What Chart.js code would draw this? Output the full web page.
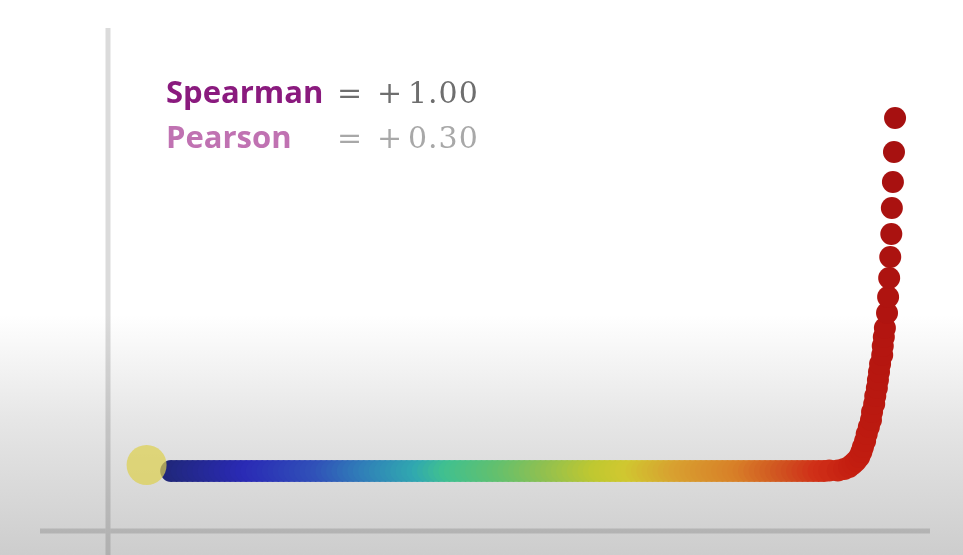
<!DOCTYPE html>
<html>
<head>
<meta charset="utf-8">
<script src="https://cdn.jsdelivr.net/npm/chart.js@4"></script>
<style>
  html, body { margin: 0; padding: 0; }
  body {
    width: 963px; height: 555px; overflow: hidden;
    background: linear-gradient(to bottom, #ffffff 0px, #ffffff 315px, #e6e6e6 420px, #cdcdcd 555px);
  }
  #wrap { position: relative; width: 963px; height: 555px; }
</style>
</head>
<body>
<div id="wrap"><canvas id="myChart"></canvas></div>
<script>
// data: x and y of each point (rank-monotonic, exponential-like)
const xValues = [
  6, 6.5, 7, 7.5, 8, 8.5, 9, 9.5, 10, 10.5, 11, 11.5, 12, 12.5, 13, 13.5,
  14, 14.5, 15, 15.5, 16, 16.5, 17, 17.5, 18, 18.5, 19, 19.5, 20, 20.5, 21, 21.5,
  22, 22.5, 23, 23.5, 24, 24.5, 25, 25.5, 26, 26.5, 27, 27.5, 28, 28.5, 29, 29.5,
  30, 30.5, 31, 31.5, 32, 32.5, 33, 33.5, 34, 34.5, 35, 35.5, 36, 36.5, 37, 37.5,
  38, 38.5, 39, 39.5, 40, 40.5, 41, 41.5, 42, 42.5, 43, 43.5, 44, 44.5, 45, 45.5,
  46, 46.5, 47, 47.5, 48, 48.5, 49, 49.5, 50, 50.5, 51, 51.5, 52, 52.5, 53, 53.5,
  54, 54.5, 55, 55.5, 56, 56.5, 57, 57.5, 58, 58.5, 59, 59.5, 60, 60.5, 61, 61.5,
  62, 62.5, 63, 63.5, 64, 64.5, 65, 65.5, 66, 66.5, 67, 67.5,
  68.3, 68.9, 69.35, 69.7, 70.0, 70.3, 70.5, 70.65, 70.85, 71.0, 71.2, 71.4,
  71.5, 71.7, 71.8, 71.95, 72.05, 72.15, 72.25, 72.45, 72.5, 72.6, 72.7,
  72.9, 73.0, 73.1, 73.2, 73.3, 73.35, 73.45, 73.55, 73.65
];
const yValues = [
  11.8, 11.8, 11.8, 11.8, 11.8, 11.8, 11.8, 11.8, 11.8, 11.8, 11.8, 11.8, 11.8, 11.8, 11.8, 11.8,
  11.8, 11.8, 11.8, 11.8, 11.8, 11.8, 11.8, 11.8, 11.8, 11.8, 11.8, 11.8, 11.8, 11.8, 11.8, 11.8,
  11.8, 11.8, 11.8, 11.8, 11.8, 11.8, 11.8, 11.8, 11.8, 11.8, 11.8, 11.8, 11.8, 11.8, 11.8, 11.8,
  11.8, 11.8, 11.8, 11.8, 11.8, 11.8, 11.8, 11.8, 11.8, 11.8, 11.8, 11.8, 11.8, 11.8, 11.8, 11.8,
  11.8, 11.8, 11.8, 11.8, 11.8, 11.8, 11.8, 11.8, 11.8, 11.8, 11.8, 11.8, 11.8, 11.8, 11.8, 11.8,
  11.8, 11.8, 11.8, 11.8, 11.8, 11.8, 11.8, 11.8, 11.8, 11.8, 11.8, 11.8, 11.8, 11.8, 11.8, 11.8,
  11.8, 11.8, 11.8, 11.8, 11.8, 11.8, 11.8, 11.8, 11.8, 11.8, 11.8, 11.8, 11.8, 11.8, 11.8, 11.8,
  11.8, 11.8, 11.8, 11.8, 11.8, 11.8, 11.8, 11.8, 11.8, 11.8, 11.8, 11.9,
  11.9, 12.2, 12.6, 13.2, 13.8, 14.6, 15.6, 16.6, 17.8, 19.2, 20.6, 22.0,
  23.6, 25.2, 26.8, 28.4, 30.0, 31.6, 33.2, 35.0, 36.8, 38.6, 40.4,
  43.4, 46.6, 50.4, 54.6, 59.2, 64.4, 69.6, 75.6, 82.4
];
// highlighted point (yellow)
const highlightX = [3.7];
const highlightY = [13];

const labels = {
  spearman: 'Spearman',
  pearson: 'Pearson',
  spearmanValue: '1.00',
  pearsonValue: '0.30'
};

// colour ramp along x (style only)
const ramp = [
  [5.4, [31, 39, 117]], [13.4, [42, 42, 181]], [19.9, [48, 80, 184]],
  [24.6, [48, 128, 184]], [29.3, [48, 168, 176]], [32.1, [64, 192, 144]],
  [36.7, [96, 192, 112]], [41.4, [144, 192, 80]], [46.1, [192, 200, 48]],
  [48.9, [208, 200, 48]], [53.6, [216, 160, 48]], [59.2, [216, 128, 40]],
  [63.8, [208, 80, 32]], [66.6, [208, 48, 24]], [70.0, [196, 30, 16]],
  [72.6, [180, 22, 16]], [73.7, [165, 16, 16]]
];
function rampColor(x) {
  if (x <= ramp[0][0]) return 'rgb(' + ramp[0][1].join(',') + ')';
  for (let i = 1; i < ramp.length; i++) {
    if (x <= ramp[i][0]) {
      const a = ramp[i - 1], b = ramp[i];
      const t = (x - a[0]) / (b[0] - a[0]);
      const c = a[1].map((v, k) => Math.round(v + (b[1][k] - v) * t));
      return 'rgb(' + c.join(',') + ')';
    }
  }
  return 'rgb(' + ramp[ramp.length - 1][1].join(',') + ')';
}

const axesPlugin = {
  id: 'axesLines',
  beforeDatasetsDraw(chart) {
    const { ctx, scales } = chart;
    const x0 = scales.x.getPixelForValue(0) + 1;
    const y0 = scales.y.getPixelForValue(0) + 1;
    ctx.save();
    ctx.strokeStyle = 'rgba(0,0,0,0.14)';
    ctx.lineWidth = 5;
    ctx.beginPath();
    ctx.moveTo(x0, 28);
    ctx.lineTo(x0, 555);
    ctx.stroke();
    ctx.beginPath();
    ctx.moveTo(40, y0);
    ctx.lineTo(x0 - 2.5, y0);
    ctx.moveTo(x0 + 2.5, y0);
    ctx.lineTo(930, y0);
    ctx.stroke();
    ctx.restore();
  },
  afterDraw(chart) {
    const ctx = chart.ctx;
    ctx.save();
    ctx.textBaseline = 'alphabetic';
    ctx.font = 'bold 31px "Open Sans"';
    ctx.fillStyle = '#8a1a7e';
    ctx.fillText(labels.spearman, 166, 103);
    ctx.fillStyle = '#c072b2';
    ctx.fillText(labels.pearson, 166, 148);

    ctx.font = '30px "DejaVu Serif"';
    ctx.letterSpacing = '1px';
    ctx.fillStyle = '#6e6e6e';
    ctx.fillText('=', 337, 103);
    ctx.fillText('+', 377, 103);
    ctx.fillText(labels.spearmanValue, 408, 103);
    ctx.fillStyle = '#a8a8a8';
    ctx.fillText('=', 337, 148);
    ctx.fillText('+', 377, 148);
    ctx.fillText(labels.pearsonValue, 408, 148);
    ctx.restore();
  }
};

const ctx = document.getElementById('myChart');

new Chart(ctx, {
  type: 'scatter',
  data: {
    datasets: [
      {
        label: 'highlight',
        data: highlightX.map((x, i) => ({ x: x, y: highlightY[i] })),
        backgroundColor: 'rgba(220, 208, 80, 0.72)',
        borderWidth: 0,
        pointRadius: 20,
        order: 0
      },
      {
        label: 'points',
        data: xValues.map((x, i) => ({ x: x, y: yValues[i] })),
        backgroundColor: (c) => c.raw ? rampColor(c.raw.x) : '#000',
        borderWidth: 0,
        pointRadius: 11,
        order: 1
      }
    ]
  },
  options: {
    responsive: true,
    maintainAspectRatio: false,
    animation: false,
    layout: { padding: 0, autoPadding: false },
    plugins: {
      legend: { display: false },
      tooltip: { enabled: false }
    },
    scales: {
      x: { type: 'linear', min: -10, max: 80, display: false },
      y: { type: 'linear', min: -5, max: 106, display: false }
    }
  },
  plugins: [axesPlugin]
});
</script>
</body>
</html>
